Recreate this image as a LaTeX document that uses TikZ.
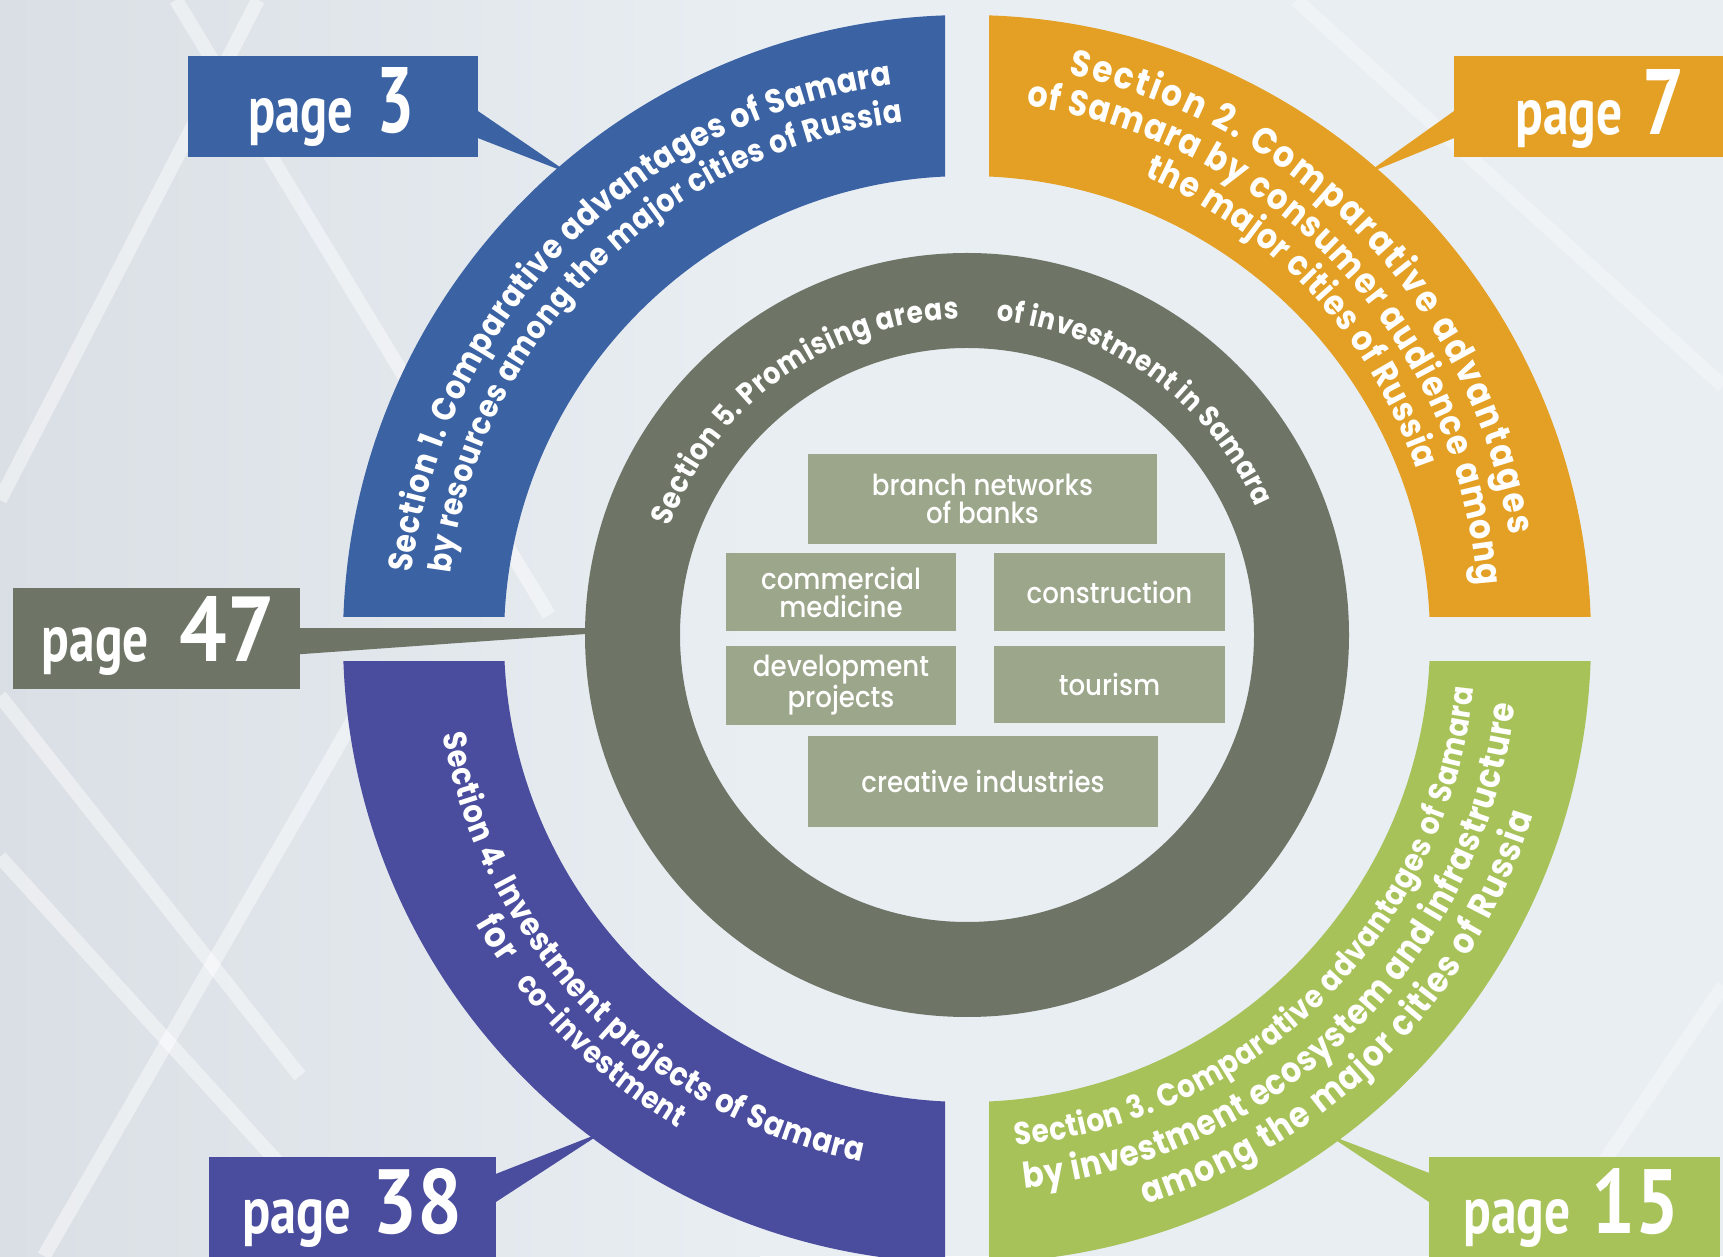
\documentclass[tikz,border=0pt]{standalone}
\usepackage{fontspec}
\usepackage{graphicx}
\usetikzlibrary{decorations.text,calc}
\setmainfont{Poppins}
\newfontfamily\secfontbase{Poppins}[FakeStretch=0.88]
\newcommand\secfont{\secfontbase\bfseries}
\IfFontExistsTF{Poppins Medium}{\newfontfamily\boxfont{Poppins Medium}[FakeStretch=0.9]}{%
  \newfontfamily\boxfont{Poppins}[FakeStretch=0.9]}
\newfontfamily\pagefont{PT Sans}
\definecolor{cblue}{HTML}{3B62A3}
\definecolor{corange}{HTML}{E4A024}
\definecolor{cgreen}{HTML}{A8C25A}
\definecolor{cpurple}{HTML}{4A4C9E}
\definecolor{cgray}{HTML}{6E7566}
\definecolor{cbox}{HTML}{9CA68B}
\definecolor{cbg}{HTML}{E9EEF3}
\definecolor{cbgd}{HTML}{DADFE5}
\newdimen\arcw
\newbox\arcbox
% #1 centre, #2 start angle, #3 end angle, #4 baseline radius, #5 max size, #6 text
\newcommand\arcline[6]{%
  \pgfinterruptpicture
    \global\setbox\arcbox=\hbox{\secfont\fontsize{10}{10}\selectfont #6}%
    \global\arcw=\wd\arcbox
  \endpgfinterruptpicture
  \ifdim\arcw<1pt \global\arcw=200pt\fi
  \pgfmathsetmacro\arcfs{min(#5,0.965*abs(#3-#2)*0.0174533*#4*10/\the\arcw)}%
  \path[decorate,decoration={text along path,text align={fit to path},
    text={|\secfont\fontsize{\arcfs}{\arcfs}\selectfont\color{white}|#6}}]
    ([shift={(#2:#4)}]#1) arc[start angle=#2,end angle=#3,radius=#4];}
\begin{document}
\begin{tikzpicture}[x=1pt,y=1pt,
  pbox/.style={rectangle,inner sep=0,draw=none},
  ptext/.style={inner sep=0,text=white,font=\pagefont\bfseries},
  ibox/.style={rectangle,fill=cbox,inner sep=0,text=white,
    font=\boxfont\fontsize{29}{28}\selectfont,align=center},
  bgline/.style={white,line width=14,opacity=0.45}]
\useasboundingbox (0,0) rectangle (1723,1256);
% background
\fill[cbg] (0,0) rectangle (1723,1256);
\shade[left color=cbgd,right color=cbg] (0,0) rectangle (760,1256);
\draw[bgline] (0,756) -- (258,1256);
\draw[bgline] (176,1256) -- (549,641);
\draw[bgline] (0,399) -- (363,0);
\draw[bgline] (44,0) -- (363,553);
\draw[bgline] (0,560) -- (300,180);
\draw[bgline,opacity=0.3] (1296,1256) -- (1723,870);
\draw[bgline,opacity=0.3] (1540,0) -- (1723,270);
% centres
\coordinate (O) at (967,617);
\coordinate (G) at (967,621);
\coordinate (T2) at (954,630);
% tail tips
\coordinate (t3) at ([shift={(130.5:612)}]O);
\coordinate (t7) at ([shift={(49.4:612)}]O);
\coordinate (t38) at ([shift={(233.6:612)}]O);
\coordinate (t15) at ([shift={(306:612)}]O);
\coordinate (k47a) at (600,628);
\coordinate (k47b) at (600,623);
% page boxes
\node[pbox,fill=cblue,minimum width=290,minimum height=101] (p3) at (333,1149.5) {};
\node[pbox,fill=corange,minimum width=269,minimum height=101] (p7) at (1588.5,1149.5) {};
\node[pbox,fill=cgray,minimum width=287,minimum height=101] (p47) at (156.5,617.5) {};
\node[pbox,fill=cpurple,minimum width=287,minimum height=104] (p38) at (352.5,47) {};
\node[pbox,fill=cgreen,minimum width=291,minimum height=104] (p15) at (1574.5,47) {};
% tails
\fill[cblue] ([yshift=46]p3.south east) -- (t3) -- ([yshift=19]p3.south east) -- cycle;
\fill[corange] ([yshift=46]p7.south west) -- (t7) -- ([yshift=19]p7.south west) -- cycle;
\fill[cpurple] ([yshift=-17]p38.north east) -- (t38) -- ([yshift=-45]p38.north east) -- cycle;
\fill[cgreen] ([yshift=-16]p15.north west) -- (t15) -- ([yshift=-45]p15.north west) -- cycle;
\fill[cgray] ([yshift=61]p47.south east) -- (k47a) -- (k47b) -- ([yshift=35]p47.south east) -- cycle;
% outer quadrants
\begin{scope}
  \clip (300,639) rectangle (945,1256);
  \fill[cblue,even odd rule] (O) circle[radius=624] (O) circle[radius=463];
\end{scope}
\begin{scope}
  \clip (989,639) rectangle (1650,1256);
  \fill[corange,even odd rule] (O) circle[radius=624] (O) circle[radius=463];
\end{scope}
\begin{scope}
  \clip (300,-10) rectangle (945,594);
  \fill[cpurple,even odd rule] (O) circle[radius=624] (O) circle[radius=463];
\end{scope}
\begin{scope}
  \clip (989,-10) rectangle (1650,594);
  \fill[cgreen,even odd rule] (O) circle[radius=624] (O) circle[radius=463];
\end{scope}
% grey ring
\fill[cgray,even odd rule] (G) circle[radius=382] (G) circle[radius=287];
% inner boxes
\node[ibox,minimum width=349,minimum height=90] (b1) at (982.5,757) {branch networks\\of banks};
\node[ibox,minimum width=230,minimum height=78] (b2) at (841,664) {commercial\\medicine};
\node[ibox,minimum width=231,minimum height=78] (b3) at (1109.5,664) {construction};
\node[ibox,minimum width=230,minimum height=79] (b4) at (841,570.5) {development\\projects};
\node[ibox,minimum width=231,minimum height=77] (b5) at (1109.5,571.5) {tourism};
\node[ibox,minimum width=350,minimum height=91] (b6) at (983,474.5) {creative industries};
% curved texts
\arcline{O}{173.2}{97.7}{559}{36}{Section 1. Comparative advantages of Samara}
\arcline{O}{172.8}{97.1}{521}{36}{by resources among the major cities of Russia}
\arcline{T2}{78.3}{9.3}{563}{37}{Section 2. Comparative advantages}
\arcline{T2}{82.1}{4.4}{525}{36}{of Samara by consumer audience among}
\arcline{T2}{67}{18.7}{488}{36}{the major cities of Russia}
\arcline{O}{-84.5}{-5.6}{509}{36}{Section 3. Comparative advantages of Samara}
\arcline{O}{-84}{-6.9}{552}{36}{by investment ecosystem and infrastructure}
\arcline{O}{-72.5}{-17.3}{593}{36}{among the major cities of Russia}
\arcline{O}{190.3}{258.5}{533}{36}{Section 4. Investment projects of Samara}
\arcline{O}{210}{214.9}{568}{36}{for}
\arcline{O}{217.3}{239.4}{568}{36}{co-investment}
\arcline{G}{160}{91.5}{316}{32}{Section 5. Promising areas}
\arcline{G}{84.6}{23.8}{316}{32}{of investment in Samara}
% page labels
\node[ptext,anchor=base west] (p3w) at (248,1123) {\resizebox{105pt}{34pt}{page}};
\node[ptext,anchor=base east] (p3n) at (415,1123) {\resizebox{38pt}{65pt}{3}};
\node[ptext,anchor=base west] (p7w) at (1515,1121) {\resizebox{107pt}{34pt}{page}};
\node[ptext,anchor=base east] (p7n) at (1685,1121) {\resizebox{42pt}{65pt}{7}};
\node[ptext,anchor=base west] (p47w) at (41.5,594) {\resizebox{107pt}{34pt}{page}};
\node[ptext,anchor=base east] (p47n) at (275,594) {\resizebox{95pt}{65pt}{47}};
\node[ptext,anchor=base west] (p38w) at (242,23) {\resizebox{109pt}{34pt}{page}};
\node[ptext,anchor=base east] (p38n) at (463,23) {\resizebox{90pt}{65pt}{38}};
\node[ptext,anchor=base west] (p15w) at (1463,23) {\resizebox{107pt}{34pt}{page}};
\node[ptext,anchor=base east] (p15n) at (1680,23) {\resizebox{88pt}{65pt}{15}};
\end{tikzpicture}
\end{document}
